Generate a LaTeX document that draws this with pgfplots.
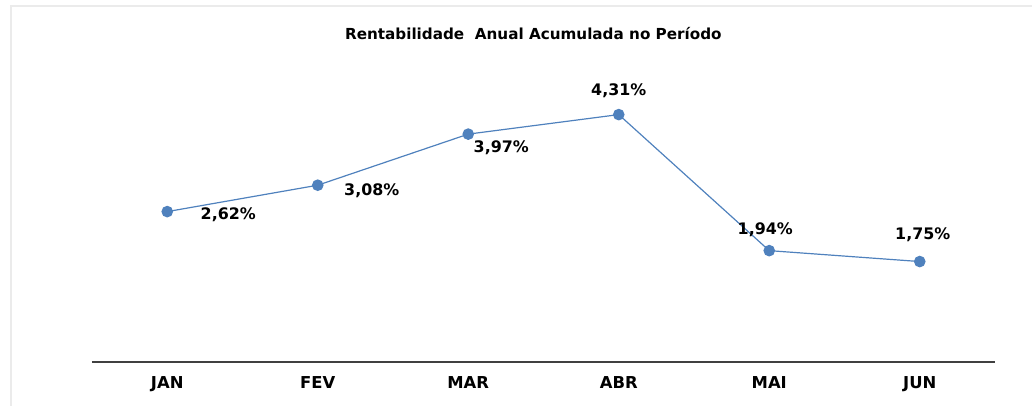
\documentclass[border=0pt]{standalone}
\usepackage{pgfplots}
\pgfplotsset{compat=1.18}
\usepackage{fontspec}
\setmainfont{DejaVu Sans}
\definecolor{serie}{HTML}{4F81BD}
\definecolor{axisgray}{HTML}{404040}
\definecolor{framegray}{HTML}{EBEBEB}
\begin{document}
\begin{tikzpicture}
\useasboundingbox (-69pt,-33pt) rectangle (705pt,271.5pt);
\draw[framegray, line width=0.8pt] (-60.75pt,-40pt) rectangle (720pt,267pt);
\begin{axis}[
  at={(0pt,0pt)}, anchor=south west,
  scale only axis,
  width=677.25pt, height=215.25pt,
  xmin=-0.5, xmax=5.5, ymin=0, ymax=5,
  axis x line*=bottom, axis y line=none,
  axis line style={axisgray, line width=0.8pt, -},
  xtick={0,1,2,3,4,5},
  xticklabels={JAN,FEV,MAR,ABR,MAI,JUN},
  major tick length=0pt,
  xticklabel style={font=\fontsize{12.3}{14}\selectfont\bfseries, yshift=-7.5pt},
  clip=false,
]
\addplot[serie, line width=0.9pt, mark=*, mark size=3.9pt, mark options={fill=serie, draw=serie}]
  coordinates {(0,2.62) (1,3.08) (2,3.97) (3,4.31) (4,1.94) (5,1.75)};
\tikzset{lab/.style={font=\fontsize{11.9}{14}\selectfont\bfseries, inner sep=0pt}}
\node[lab] at (axis cs:0,2.62) [xshift=45.75pt, yshift=-2.25pt] {2,62\%};
\node[lab] at (axis cs:1,3.08) [xshift=40.5pt, yshift=-4.5pt] {3,08\%};
\node[lab] at (axis cs:2,3.97) [xshift=24.75pt, yshift=-10.5pt] {3,97\%};
\node[lab] at (axis cs:3,4.31) [xshift=0pt, yshift=18pt] {4,31\%};
\node[lab] at (axis cs:4,1.94) [xshift=-3pt, yshift=15.75pt] {1,94\%};
\node[lab] at (axis cs:5,1.75) [xshift=2.25pt, yshift=20.25pt] {1,75\%};
\end{axis}
\node[font=\fontsize{11.4}{14}\selectfont\bfseries] at (331pt,246pt) {Rentabilidade\ \ Anual Acumulada no Período};
\end{tikzpicture}
\end{document}
